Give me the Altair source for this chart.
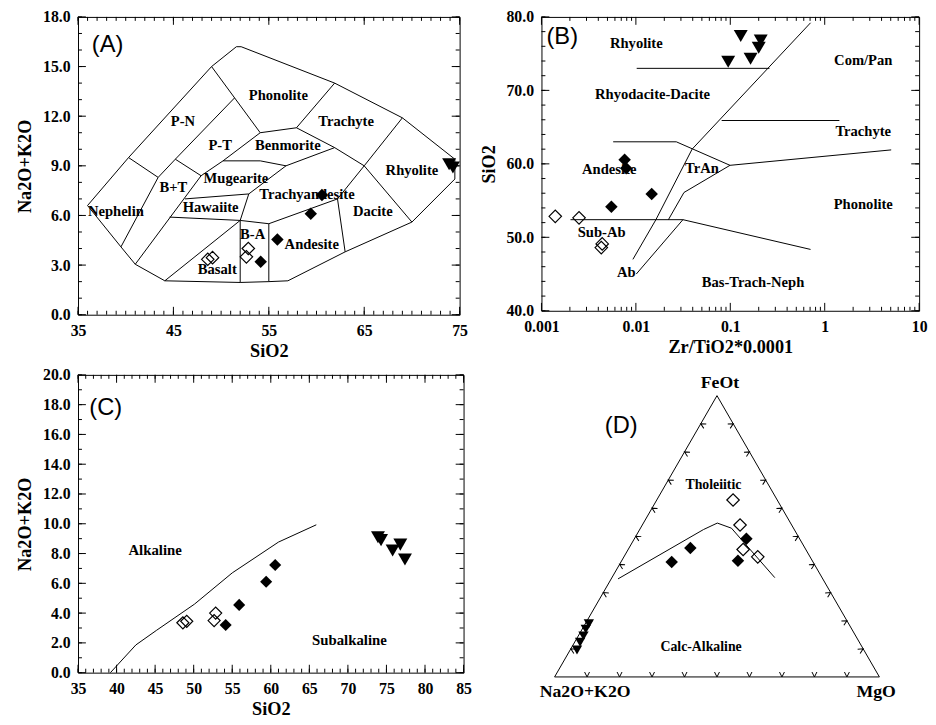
import altair as alt
import pandas as pd
import numpy as np

SERIF = "Liberation Serif"
SANS = "Liberation Sans"

# ---------------- samples ----------------
# open diamonds
OPEN_SIO2 = [48.6, 49.1, 52.85, 52.65]
OPEN_ALK = [3.35, 3.45, 4.0, 3.5]
OPEN_ZRTI = [0.0043, 0.0044, 0.0014, 0.0025]
OPEN_A = [13.6, 15.9, 19.3, 16.1]
OPEN_F = [62.9, 54.0, 45.3, 42.7]
OPEN_M = [23.5, 30.1, 35.4, 41.2]
# filled diamonds
FILL_SIO2 = [54.15, 55.9, 59.4, 60.57]
FILL_ALK = [3.2, 4.55, 6.1, 7.23]
FILL_ZRTI = [0.0055, 0.0147, 0.0079, 0.0076]
FILL_A = [16.4, 35.3, 43.5, 22.9]
FILL_F = [49.1, 45.8, 40.9, 41.3]
FILL_M = [34.5, 18.9, 15.6, 35.8]
# inverted triangles
TRI_SIO2 = [73.9, 74.3, 75.8, 76.8, 77.4]
TRI_ALK = [9.1, 8.9, 8.2, 8.6, 7.6]
TRI_ZRTI = [0.095, 0.164, 0.2, 0.21, 0.129]
TRI_A = [88.3, 86.0, 83.8, 81.9, 80.0]
TRI_F = [9.6, 12.3, 14.6, 17.0, 18.9]
TRI_M = [2.1, 1.7, 1.6, 1.1, 1.1]

# ---------------- panel A boundaries (SiO2, Na2O+K2O) ----------------
A_SEGS = {
    "outer": [(36.0, 6.6), (40.3, 9.5), (49.0, 15.0), (51.6, 16.2), (52.1, 16.2), (61.9, 14.0), (69.0, 11.9),
              (74.5, 9.4), (74.5, 8.2), (70.0, 5.6), (63.0, 3.8), (57.0, 2.05), (55.0, 2.0), (52.0, 1.95),
              (44.1, 2.05), (41.0, 3.05), (39.5, 4.1), (36.0, 6.6)],
    "neph": [(40.3, 9.5), (43.4, 8.3), (39.5, 4.1)],
    "pn": [(43.4, 8.3), (45.2, 9.4), (51.4, 13.1)],
    "phon": [(49.0, 15.0), (54.1, 11.0)],
    "bt_top": [(45.2, 9.4), (47.9, 8.4)],
    "bt_right": [(47.9, 8.4), (41.0, 3.05)],
    "pt": [(47.9, 8.4), (50.2, 9.3), (54.1, 11.0)],
    "benm_top": [(54.1, 11.0), (57.9, 11.3), (61.9, 10.1), (65.0, 9.0)],
    "phon_trach": [(61.9, 14.0), (57.9, 11.3)],
    "trach_rhy": [(69.0, 11.9), (65.0, 9.0), (70.0, 5.6)],
    "benm_bot": [(50.2, 9.3), (54.1, 9.3), (56.8, 9.0), (61.9, 10.1)],
    "mug": [(46.2, 7.0), (52.9, 7.3), (56.8, 9.0)],
    "ta": [(52.9, 7.3), (52.0, 5.7)],
    "haw": [(44.6, 5.9), (52.0, 5.7)],
    "basalt": [(44.1, 2.05), (52.0, 5.7), (52.0, 1.95)],
    "ba": [(52.0, 5.7), (55.0, 5.5), (55.0, 2.0)],
    "and": [(55.0, 5.5), (62.2, 7.0), (65.0, 9.0)],
    "dac": [(62.2, 7.0), (63.0, 3.8)],
}
A_LABELS = [("Phonolite", 56.0, 13.2), ("P-N", 46.0, 11.65), ("Trachyte", 63.1, 11.65), ("P-T", 49.9, 10.2),
            ("Benmorite", 57.0, 10.2), ("Rhyolite", 70.0, 8.71), ("B+T", 45.0, 7.68), ("Mugearite", 51.55, 8.21),
            ("Trachyandesite", 59.0, 7.22), ("Nephelin", 38.97, 6.19), ("Hawaiite", 48.9, 6.43),
            ("Dacite", 65.9, 6.19), ("B-A", 53.3, 4.84), ("Andesite", 59.5, 4.2), ("Basalt", 49.6, 2.72)]

# ---------------- panel B boundaries (Zr/TiO2*0.0001, SiO2) ----------------
B_SEGS = {
    "rhy": [(0.0102, 73.0), (0.26, 73.0)],
    "l1": [(0.0093, 47.0), (0.0163, 52.4), (0.0394, 62.0), (0.708, 79.2)],
    "l2": [(0.0101, 45.0), (0.0315, 52.4)],
    "h1": [(0.00203, 52.4), (0.0315, 52.4), (0.708, 48.35)],
    "l3": [(0.0221, 52.4), (0.0323, 56.1), (0.0993, 59.8), (5.06, 61.9)],
    "tran": [(0.00575, 63.0), (0.0268, 63.0), (0.0993, 59.8)],
    "trach": [(0.081, 65.9), (1.43, 65.9)],
}
B_LABELS = [("Rhyolite", 0.0101, 76.3), ("Com/Pan", 2.56, 74.0), ("Rhyodacite-Dacite", 0.0150, 69.3),
            ("Trachyte", 2.56, 64.3), ("Andesite", 0.00522, 59.2), ("TrAn", 0.0501, 59.3),
            ("Phonolite", 2.56, 54.4), ("Sub-Ab", 0.00434, 50.6), ("Ab", 0.0079, 45.2),
            ("Bas-Trach-Neph", 0.174, 43.75)]

# ---------------- panel C boundary ----------------
C_SEGS = {"ib": [(39.2, 0.0), (42.5, 1.86), (45.2, 2.85), (50.1, 4.6), (55.0, 6.7), (61.0, 8.77), (65.9, 9.93)]}
C_LABELS = [("Alkaline", 45.0, 8.22), ("Subalkaline", 70.2, 2.19)]

# ---------------- panel D (AFM) ----------------
D_CURVE_A = [63.0, 27.95, 22.55, 19.1, 14.55]
D_CURVE_F = [34.85, 52.4, 54.7, 52.87, 35.3]
D_CURVE_M = [2.1, 19.65, 22.75, 28.0, 50.15]
D_VERT_A = [100, 0, 0, 100]
D_VERT_F = [0, 100, 0, 0]
D_VERT_M = [0, 0, 100, 0]
TERN_TICKS = [10, 20, 30, 40, 50, 60, 70, 80, 90]
D_VERTEX_LABELS = [("FeOt", 0.509, 0.906), ("Na2O+K2O", 0.094, -0.046), ("MgO", 0.99, -0.046)]
D_REGION_LABELS = [("Tholeiitic", 0.489, 0.592), ("Calc-Alkaline", 0.451, 0.093)]

PANEL_LETTERS = {"A": (38.1, 16.3), "B": (0.00166, 77.2), "C": (38.6, 17.76), "D": (0.205, 0.771)}

# ---------------- helpers ----------------
S3 = np.sqrt(3) / 2


def tern_xy(a, f, m):
    a, f, m = np.asarray(a, float), np.asarray(f, float), np.asarray(m, float)
    tot = a + f + m
    return (m + f / 2) / tot, f / tot * S3


samples = pd.concat([
    pd.DataFrame({"g": "open", "sio2": OPEN_SIO2, "alk": OPEN_ALK, "zrti": OPEN_ZRTI, "A": OPEN_A, "F": OPEN_F, "M": OPEN_M}),
    pd.DataFrame({"g": "fill", "sio2": FILL_SIO2, "alk": FILL_ALK, "zrti": FILL_ZRTI, "A": FILL_A, "F": FILL_F, "M": FILL_M}),
    pd.DataFrame({"g": "tri", "sio2": TRI_SIO2, "alk": TRI_ALK, "zrti": TRI_ZRTI, "A": TRI_A, "F": TRI_F, "M": TRI_M}),
], ignore_index=True)
samples["tx"], samples["ty"] = tern_xy(samples["A"], samples["F"], samples["M"])


def lines_df(segs):
    rows = []
    for name, pts in segs.items():
        for i, (x, y) in enumerate(pts):
            rows.append({"seg": name, "ord": i, "x": x, "y": y})
    return pd.DataFrame(rows)


def labels_df(labels):
    return pd.DataFrame([{"t": t, "x": x, "y": y} for t, x, y in labels])


AXIS_STYLE = dict(labelFont=SERIF, labelFontWeight="bold", labelFontSize=16, labelColor="black",
                  titleFont=SERIF, titleFontWeight="bold", titleFontSize=18.5, titleColor="black",
                  ticks=False, tickSize=0, domain=False, grid=False, labelPadding=8,
                  labelFlush=False, labelOverlap=False)


def xaxis(title, values, fmt):
    return alt.Axis(title=title, values=values, format=fmt, titlePadding=3, **AXIS_STYLE)


def yaxis(title, values, fmt):
    return alt.Axis(title=title, values=values, format=fmt, titlePadding=8, **AXIS_STYLE)


class Panel:
    def __init__(self, xs, ys, xax, yax, W, H):
        self.xs, self.ys, self.xax, self.yax, self.W, self.H = xs, ys, xax, yax, W, H

    def X(self, col):
        return alt.X(f"{col}:Q", scale=self.xs, axis=self.xax)

    def Y(self, col):
        return alt.Y(f"{col}:Q", scale=self.ys, axis=self.yax)

    def xy(self, xcol="x", ycol="y"):
        return dict(x=self.X(xcol), y=self.Y(ycol))


def tick_layers(P, xmaj, xmin, ymaj, ymin, maj=8, mnr=4):
    out = []
    W, H = P.W, P.H
    for vals, L in ((xmin, mnr), (xmaj, maj)):
        base = alt.Chart(pd.DataFrame({"x": vals})).mark_rule(color="black", strokeWidth=1)
        out.append(base.encode(x=P.X("x"), y=alt.value(H), y2=alt.value(H - L)))
        out.append(base.encode(x=P.X("x"), y=alt.value(0), y2=alt.value(L)))
    for vals, L in ((ymin, mnr), (ymaj, maj)):
        base = alt.Chart(pd.DataFrame({"y": vals})).mark_rule(color="black", strokeWidth=1)
        out.append(base.encode(y=P.Y("y"), x=alt.value(0), x2=alt.value(L)))
        out.append(base.encode(y=P.Y("y"), x=alt.value(W), x2=alt.value(W - L)))
    return out


def text_layer(P, df, size, font=SERIF, weight="bold"):
    return alt.Chart(df).mark_text(font=font, fontWeight=weight, fontSize=size, color="black",
                                   align="center", baseline="middle").encode(text="t:N", **P.xy())


def letter_layer(P, key):
    x, y = PANEL_LETTERS[key]
    return text_layer(P, pd.DataFrame({"t": [f"({key})"], "x": [x], "y": [y]}), 24, SANS, "normal")


def point_layers(P, df, xcol, ycol, sd, st, flt=None):
    base = alt.Chart(df)
    if flt:
        base = base.transform_filter(flt)
    e = P.xy(xcol, ycol)
    o = base.transform_filter("datum.g == 'open'").mark_point(
        shape="diamond", filled=False, color="black", strokeWidth=1.2, size=sd, opacity=1).encode(**e)
    f = base.transform_filter("datum.g == 'fill'").mark_point(
        shape="diamond", filled=True, color="black", size=sd, opacity=1).encode(**e)
    t = base.transform_filter("datum.g == 'tri'").mark_point(
        shape="triangle-down", filled=True, color="black", size=st, opacity=1).encode(**e)
    return [o, f, t]


def boundary_layer(P, segs):
    return alt.Chart(lines_df(segs)).mark_line(color="black", strokeWidth=1).encode(
        detail="seg:N", order="ord:Q", **P.xy())


# ---------------- Panel A ----------------
A_X_TICKS = [35, 45, 55, 65, 75]
A_Y_TICKS = [0, 3, 6, 9, 12, 15, 18]
PA = Panel(alt.Scale(domain=[35, 75], nice=False, zero=False),
           alt.Scale(domain=[0, 18], nice=False, zero=False),
           xaxis("SiO2", A_X_TICKS, "d"), yaxis("Na2O+K2O", A_Y_TICKS, ".1f"), 387, 302)
panelA = alt.layer(
    boundary_layer(PA, A_SEGS),
    *tick_layers(PA, A_X_TICKS, list(range(35, 76)), A_Y_TICKS, list(range(0, 19))),
    text_layer(PA, labels_df(A_LABELS), 14.8),
    letter_layer(PA, "A"),
    *point_layers(PA, samples, "sio2", "alk", 160, 200, "datum.sio2 <= 75"),
).properties(width=PA.W, height=PA.H)

# ---------------- Panel B ----------------
B_X_TICKS = [0.001, 0.01, 0.1, 1, 10]
B_X_MINOR = [m * d for d in [0.001, 0.01, 0.1, 1] for m in range(2, 10)]
B_Y_TICKS = [40, 50, 60, 70, 80]
PB = Panel(alt.Scale(type="log", domain=[0.001, 10], nice=False),
           alt.Scale(domain=[40, 80], nice=False, zero=False),
           xaxis("Zr/TiO2*0.0001", B_X_TICKS, "~g"), yaxis("SiO2", B_Y_TICKS, ".1f"), 383, 298)
panelB = alt.layer(
    boundary_layer(PB, B_SEGS),
    *tick_layers(PB, B_X_TICKS, B_X_MINOR, B_Y_TICKS, list(range(40, 81, 2))),
    text_layer(PB, labels_df(B_LABELS), 14.8),
    letter_layer(PB, "B"),
    *point_layers(PB, samples, "zrti", "sio2", 160, 200),
).properties(width=PB.W, height=PB.H)

# ---------------- Panel C ----------------
C_X_TICKS = list(range(35, 86, 5))
C_Y_TICKS = list(range(0, 21, 2))
PC = Panel(alt.Scale(domain=[35, 85], nice=False, zero=False),
           alt.Scale(domain=[0, 20], nice=False, zero=False),
           xaxis("SiO2", C_X_TICKS, "d"), yaxis("Na2O+K2O", C_Y_TICKS, ".1f"), 391, 302)
panelC = alt.layer(
    boundary_layer(PC, C_SEGS),
    *tick_layers(PC, C_X_TICKS, list(range(35, 86)), C_Y_TICKS, list(range(0, 21))),
    text_layer(PC, labels_df(C_LABELS), 15),
    letter_layer(PC, "C"),
    *point_layers(PC, samples, "sio2", "alk", 150, 200),
).properties(width=PC.W, height=PC.H)

# ---------------- Panel D ----------------
SIDE = 329.4
D_X0 = -0.0404
D_Y1 = 0.93
PD = Panel(alt.Scale(domain=[D_X0, 1.0], nice=False, zero=False),
           alt.Scale(domain=[0, D_Y1], nice=False, zero=False),
           None, None, SIDE * (1 - D_X0), SIDE * D_Y1)

vx, vy = tern_xy(D_VERT_A, D_VERT_F, D_VERT_M)
cx, cy = tern_xy(D_CURVE_A, D_CURVE_F, D_CURVE_M)
d_lines = pd.concat([
    pd.DataFrame({"seg": "frame", "ord": range(len(vx)), "x": vx, "y": vy}),
    pd.DataFrame({"seg": "curve", "ord": range(len(cx)), "x": cx, "y": cy}),
], ignore_index=True)
tt = np.array(TERN_TICKS, float)
bx, by = tern_xy(100 - tt, 0 * tt, tt)
lx, ly = tern_xy(100 - tt, tt, 0 * tt)
rx, ry = tern_xy(0 * tt, tt, 100 - tt)
CHEVRON = "M -0.5 -1 L 0 0 L 0.5 -1"


def chevrons(xv, yv, ang):
    return alt.Chart(pd.DataFrame({"x": xv, "y": yv})).mark_point(
        shape=CHEVRON, filled=False, color="black", strokeWidth=1, size=100, opacity=1, angle=ang
    ).encode(**PD.xy())


panelD = alt.layer(
    alt.Chart(d_lines).mark_line(color="black", strokeWidth=1).encode(
        detail="seg:N", order="ord:Q", **PD.xy()),
    chevrons(bx, by, 0), chevrons(lx, ly, 120), chevrons(rx, ry, 240),
    text_layer(PD, labels_df(D_VERTEX_LABELS), 18),
    text_layer(PD, labels_df(D_REGION_LABELS), 14),
    letter_layer(PD, "D"),
    *point_layers(PD, samples, "tx", "ty", 160, 110),
).properties(width=PD.W, height=PD.H, view=alt.ViewBackground(stroke="transparent"))

chart = alt.concat(
    panelA, panelB, panelC, panelD, columns=2,
    spacing={"row": 61, "column": 79}, bounds="flush", align="each",
).properties(
    padding={"left": 7, "top": -5, "right": 0, "bottom": 0}
).configure(font=SERIF).configure_view(stroke="black", strokeWidth=1).configure_axis(**AXIS_STYLE)

chart.save("out.html", embed_options={"renderer": "svg", "actions": False})
